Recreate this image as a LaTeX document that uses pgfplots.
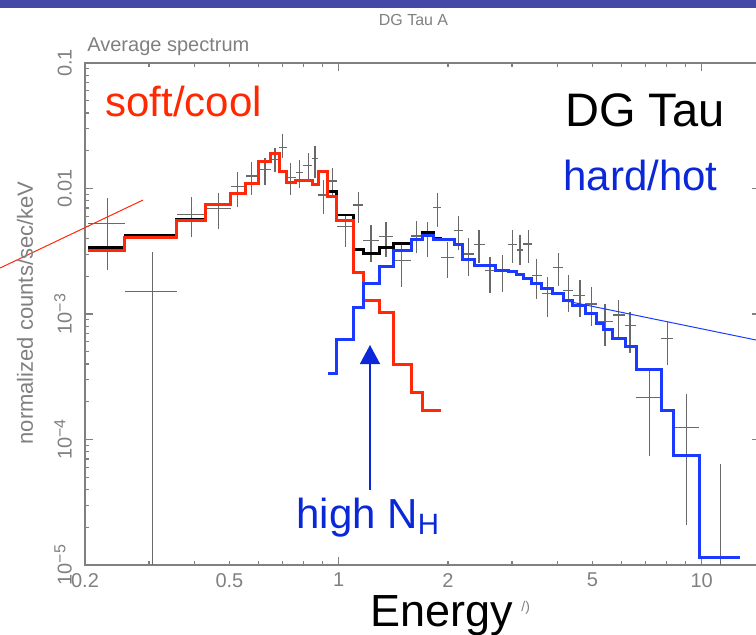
\documentclass[border=0pt]{standalone}
\usepackage{fontspec}
\setmainfont{Liberation Sans}
\usepackage{pgfplots}
\usepackage{pgfplotstable}
\pgfplotsset{compat=1.18}
\usetikzlibrary{arrows.meta}
\definecolor{axgray}{RGB}{128,128,128}
\definecolor{crossgray}{RGB}{105,105,105}
\definecolor{modred}{RGB}{255,40,10}
\definecolor{modblue}{RGB}{28,58,255}
\definecolor{txtred}{RGB}{255,40,0}
\definecolor{txtblue}{RGB}{10,40,215}
\definecolor{barblue}{RGB}{68,73,168}
\newcommand{\tenexp}[1]{10\raisebox{0.6ex}{\fontsize{8}{9}\selectfont −#1}}

\pgfplotstableread{
x xl xh y yl yh
0.2304 0.2039 0.2577 5.28e-3 2.242e-3 8.35e-3
0.3073 0.2577 0.3578 1.506e-3 1e-5 3.136e-3
0.3936 0.3578 0.4301 6.23e-3 4.13e-3 8.51e-3
0.4659 0.4301 0.5041 6.955e-3 4.73e-3 9.16e-3
0.5256 0.5041 0.5544 1.033e-2 7.16e-3 1.361e-2
0.5758 0.5544 0.6005 1.258e-2 8.88e-3 1.617e-2
0.6266 0.6005 0.6497 1.422e-2 1.066e-2 1.750e-2
0.6677 0.6497 0.6848 1.709e-2 1.361e-2 2.091e-2
0.6993 0.6848 0.7192 2.130e-2 1.740e-2 2.703e-2
0.7375 0.7192 0.7626 1.219e-2 8.88e-3 1.588e-2
0.7787 0.7626 0.7975 1.336e-2 1.004e-2 1.687e-2
0.8245 0.7975 0.8459 1.520e-2 1.133e-2 1.908e-2
0.8604 0.8459 0.8787 1.740e-2 1.213e-2 2.181e-2
0.9070 0.8787 0.9326 8.88e-3 6.23e-3 1.169e-2
0.9602 0.9326 0.9874 1.148e-2 8.60e-3 1.465e-2
1.0454 0.9874 1.097 4.96e-3 3.40e-3 6.15e-3
1.1324 1.097 1.169 7.39e-3 5.28e-3 9.43e-3
1.2275 1.169 1.294 3.84e-3 2.61e-3 5.12e-3
1.3502 1.294 1.414 4.13e-3 2.86e-3 5.44e-3
1.4914 1.414 1.582 2.66e-3 1.650e-3 3.66e-3
1.6400 1.582 1.704 4.18e-3 3.05e-3 5.51e-3
1.7541 1.704 1.822 4.40e-3 2.83e-3 5.41e-3
1.8690 1.822 1.913 7.03e-3 4.96e-3 9.16e-3
1.9916 1.913 2.083 2.83e-3 1.925e-3 3.77e-3
2.1356 2.083 2.196 4.61e-3 3.236e-3 6.04e-3
2.2751 2.196 2.359 3.01e-3 2.008e-3 4.01e-3
2.4349 2.359 2.529 3.59e-3 2.535e-3 4.67e-3
2.6115 2.529 2.696 2.213e-3 1.478e-3 2.86e-3
2.8298 2.696 2.933 2.242e-3 1.506e-3 2.953e-3
3.0157 2.933 3.093 3.59e-3 2.535e-3 4.67e-3
3.1579 3.093 3.225 3.236e-3 2.457e-3 4.26e-3
3.3289 3.225 3.402 3.61e-3 2.535e-3 4.67e-3
3.5116 3.402 3.625 2.02e-3 1.317e-3 2.73e-3
3.7641 3.625 3.886 1.462e-3 9.41e-4 1.961e-3
4.0272 3.886 4.157 2.355e-3 1.671e-3 3.05e-3
4.2905 4.157 4.413 1.534e-3 1.043e-3 2.045e-3
4.6195 4.413 4.770 1.398e-3 9.41e-4 1.866e-3
4.9774 4.770 5.137 1.201e-3 8.02e-4 1.632e-3
5.4162 5.137 5.685 8.68e-4 5.56e-4 1.201e-3
5.8898 5.685 6.149 9.82e-4 6.59e-4 1.293e-3
6.3472 6.149 6.592 8.07e-4 4.92e-4 1.043e-3
7.1730 6.592 7.726 2.169e-4 7.43e-5 3.58e-4
8.0396 7.726 8.352 6.40e-4 3.92e-4 8.68e-4
9.0938 8.352 9.849 1.251e-4 2.083e-5 2.292e-4
11.280 11.280 11.280 1.0e-5 1.0e-5 6.34e-5
}\crosses

\pgfplotstableread{
x y
0.2039 3.375e-3
0.2577 4.207e-3
0.3578 5.715e-3
0.4301 7.523e-3
0.5041 9.157e-3
0.5544 1.10e-2
0.6005 1.656e-2
0.6497 1.894e-2
0.6848 1.361e-2
0.7192 1.12e-2
0.7626 1.148e-2
0.8459 1.086e-2
0.8787 1.361e-2
0.9326 9.43e-3
0.9874 6.149e-3
1.097 3.277e-3
1.169 3.045e-3
1.294 3.375e-3
1.414 3.658e-3
1.582 3.937e-3
1.704 4.444e-3
1.822 4.01e-3
1.910 3.937e-3
2.083 3.592e-3
2.196 2.694e-3
2.359 2.456e-3
2.696 2.241e-3
2.933 2.2e-3
3.093 2.046e-3
3.225 1.925e-3
3.402 1.756e-3
3.625 1.602e-3
3.886 1.462e-3
4.157 1.293e-3
4.413 1.179e-3
4.770 1.013e-3
5.137 8.43e-4
5.357 7.46e-4
5.685 6.40e-4
6.149 5.49e-4
6.592 3.625e-4
7.726 1.718e-4
8.352 7.43e-5
9.849 1.151e-5
12.75 1.151e-5
}\totalmodel

\pgfplotstableread{
x y
0.2039 3.236e-3
0.2577 4.07e-3
0.3578 5.60e-3
0.4301 7.523e-3
0.5041 9.157e-3
0.5544 1.10e-2
0.6005 1.656e-2
0.6497 1.894e-2
0.6848 1.361e-2
0.7192 1.12e-2
0.7626 1.148e-2
0.8459 1.086e-2
0.8787 1.361e-2
0.9326 8.6e-3
0.9874 5.61e-3
1.097 2.149e-3
1.169 1.293e-3
1.294 1.024e-3
1.414 3.97e-4
1.582 2.377e-4
1.704 1.718e-4
1.822 1.71e-4
1.910 1.71e-4
}\softmodel

\pgfplotstableread{
x y
0.9326 3.327e-4
0.9874 6.29e-4
1.097 1.122e-3
1.169 1.756e-3
1.294 2.381e-3
1.414 3.236e-3
1.582 3.937e-3
1.704 4.261e-3
1.822 3.937e-3
2.083 3.592e-3
2.196 2.694e-3
2.359 2.456e-3
2.696 2.241e-3
2.933 2.2e-3
3.093 2.046e-3
3.225 1.925e-3
3.402 1.756e-3
3.625 1.602e-3
3.886 1.462e-3
4.157 1.293e-3
4.413 1.179e-3
4.770 1.013e-3
5.137 8.43e-4
5.357 7.46e-4
5.685 6.40e-4
6.149 5.49e-4
6.592 3.625e-4
7.726 1.718e-4
8.352 7.43e-5
9.849 1.151e-5
12.75 1.151e-5
}\hardmodel

\begin{document}
\begin{tikzpicture}
\fill[barblue] (0pt,313.25pt) rectangle (378pt,317pt);
\begin{axis}[
  at={(42.5pt,34.5pt)}, anchor=south west,
  scale only axis, width=337.65pt, height=251pt,
  xmode=log, ymode=log,
  xmin=0.2, xmax=14.5, ymin=1e-5, ymax=0.1,
  clip=false,
  axis line style={draw=axgray, line width=0.6pt},
  every tick/.style={draw=axgray, line width=0.6pt},
  major tick length=4pt, minor tick length=2pt,
  xtick={1,10}, xticklabels={1,10},
  extra x ticks={0.2,0.5,2,5}, extra x tick labels={0.2,0.5,2,5},
  extra x tick style={major tick length=2pt},
  minor xtick={0.3,0.4,0.6,0.7,0.8,0.9,3,4,6,7,8,9},
  ytick={1e-5,1e-4,1e-3,1e-2,1e-1},
  yticklabels={\tenexp{5},\tenexp{4},\tenexp{3},0.01,0.1},
  minor ytick={2e-5,3e-5,4e-5,5e-5,6e-5,7e-5,8e-5,9e-5,2e-4,3e-4,4e-4,5e-4,6e-4,7e-4,8e-4,9e-4,2e-3,3e-3,4e-3,5e-3,6e-3,7e-3,8e-3,9e-3,2e-2,3e-2,4e-2,5e-2,6e-2,7e-2,8e-2,9e-2},
  tick label style={font=\fontsize{10}{12}\selectfont, text=axgray},
  yticklabel style={rotate=90, anchor=south},
  yticklabel shift=3pt,
  xticklabel shift=0.5pt,
]
\addplot[draw=none, mark=none,
  error bars/.cd, x dir=both, x explicit, y dir=both, y explicit,
  error mark=none, error bar style={draw=crossgray, line width=0.6pt}]
  table[x=x, y=y,
    x error plus expr=\thisrow{xh}-\thisrow{x},
    x error minus expr=\thisrow{x}-\thisrow{xl},
    y error plus expr=\thisrow{yh}-\thisrow{y},
    y error minus expr=\thisrow{y}-\thisrow{yl}] {\crosses};
\addplot[const plot, black, line width=1.4pt] table[x=x,y=y] {\totalmodel};
\addplot[const plot, modred, line width=1.5pt] table[x=x,y=y] {\softmodel};
\addplot[const plot, modblue, line width=1.5pt] table[x=x,y=y] {\hardmodel};
\addplot[modred, line width=0.5pt] coordinates {(0.1167,2.326e-3) (0.2890,8.10e-3)};
\addplot[modblue, line width=0.5pt] coordinates {(4.201,1.276e-3) (14.11,6.21e-4)};
\end{axis}
\node[text=axgray, font=\fontsize{8}{10}\selectfont] at (206.75pt,307pt) {DG Tau A};
\node[anchor=base west, inner sep=0pt, text=axgray, font=\fontsize{10}{12}\selectfont] at (43.5pt,291pt) {Average spectrum};
\node[rotate=90, text=axgray, font=\fontsize{11}{13}\selectfont] at (12.5pt,160.5pt) {normalized counts/sec/keV};
\node[anchor=base west, inner sep=0pt, text=txtred, font=\fontsize{21}{25}\selectfont] at (52.5pt,259pt) {soft/cool};
\node[anchor=base west, inner sep=0pt, text=black, font=\fontsize{23.5}{28}\selectfont] at (282.5pt,254pt) {DG Tau};
\node[anchor=base west, inner sep=0pt, text=txtblue, font=\fontsize{21}{25}\selectfont] at (281.5pt,222pt) {hard/hot};
\node[anchor=base west, inner sep=0pt, text=txtblue, font=\fontsize{21}{25}\selectfont] at (148pt,53pt) {high N\textsubscript{H}};
\draw[txtblue, line width=0.75pt, -{Triangle[width=10pt,length=9.5pt]}] (185pt,72pt) -- (185pt,144.5pt);
\node[anchor=base west, inner sep=0pt, text=black, font=\fontsize{22.5}{27}\selectfont] at (185pt,4pt) {Energy};
\node[anchor=base west, inner sep=0pt, text=axgray, font=\fontsize{7}{8}\selectfont] at (260.5pt,11.5pt) {/)};
\pgfresetboundingbox
\useasboundingbox (0pt,0pt) rectangle (378pt,317pt);
\end{tikzpicture}
\end{document}
